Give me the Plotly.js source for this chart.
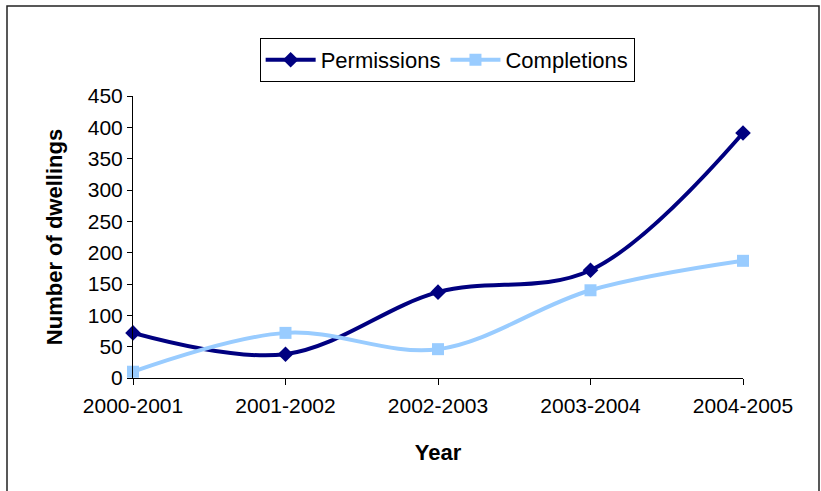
<!DOCTYPE html>
<html><head><meta charset="utf-8">
<script src="https://cdn.plot.ly/plotly-3.0.1.min.js"></script>
<style>html,body{margin:0;padding:0;background:#fff}#c{width:821px;height:491px}</style>
</head><body><div id="c"></div>
<script>
const years = ["2000-2001","2001-2002","2002-2003","2003-2004","2004-2005"];
const permissions = [72, 38, 137, 172, 391];
const completions = [10, 72, 46, 140, 187];
const yTicks = [0,50,100,150,200,250,300,350,400,450];

const font = {family: "Liberation Sans, Arial, sans-serif", color: "#000"};
const traces = [
  {x: years, y: permissions, name: "Permissions", type: "scatter", mode: "lines+markers",
   line: {color: "#000080", width: 4, shape: "spline", smoothing: 1},
   marker: {symbol: "diamond", size: 12, color: "#000080"}, cliponaxis: false},
  {x: years, y: completions, name: "Completions", type: "scatter", mode: "lines+markers",
   line: {color: "#99CCFF", width: 4, shape: "spline", smoothing: 1},
   marker: {symbol: "square", size: 12, color: "#99CCFF"}, cliponaxis: false}
];
const layout = {
  width: 821, height: 491,
  margin: {l: 133, r: 78, t: 96, b: 113},
  paper_bgcolor: "#fff", plot_bgcolor: "#fff",
  font: Object.assign({size: 20}, font),
  showlegend: true,
  legend: {orientation: "h", x: 0.515, xanchor: "center", y: 1.128, yanchor: "middle",
           bordercolor: "#000", borderwidth: 1, font: Object.assign({size: 22}, font),
           itemwidth: 50, tracegroupgap: 0},
  xaxis: {type: "category", range: [0, 4], showgrid: false, zeroline: false,
          showline: true, linecolor: "#000", linewidth: 1,
          ticks: "outside", ticklen: 6, tickcolor: "#000", ticklabelstandoff: 3,
          tickfont: Object.assign({size: 21}, font),
          title: {text: "<b>Year</b>", font: Object.assign({size: 22}, font), standoff: 28}},
  yaxis: {range: [0, 450], tickvals: yTicks, showgrid: false, zeroline: false,
          showline: true, linecolor: "#000", linewidth: 1,
          ticks: "outside", ticklen: 5, tickcolor: "#000",
          tickfont: Object.assign({size: 21}, font),
          title: {text: "<b>Number of dwellings</b>", font: Object.assign({size: 22}, font), standoff: 19}},
  shapes: [{type: "rect", xref: "paper", yref: "paper",
            x0: (7-133)/610, x1: (819-133)/610, y0: (378-496)/282, y1: (378-6)/282,
            line: {color: "#222", width: 1.5}}]
};
Plotly.newPlot("c", traces, layout, {displayModeBar: false, staticPlot: true});
</script></body></html>
